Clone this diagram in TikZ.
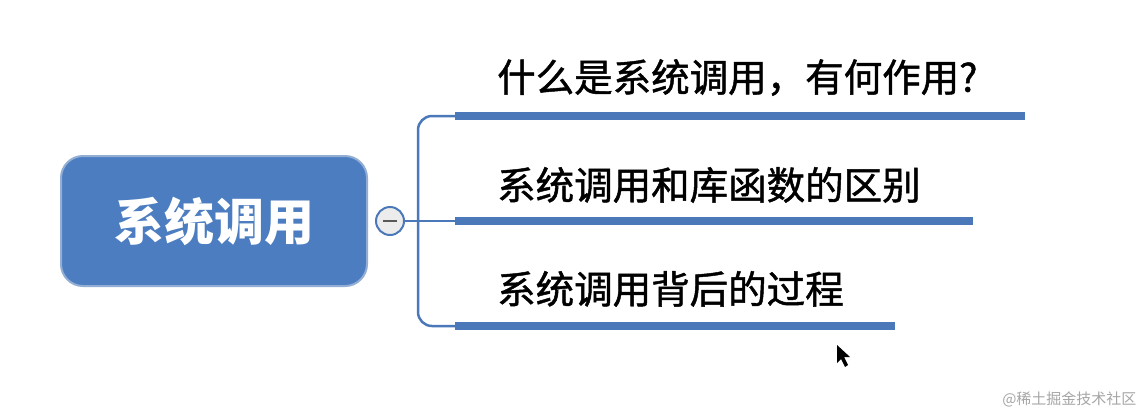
\documentclass[tikz,border=0pt]{standalone}
\usepackage{fontspec}
\newfontfamily\cjk{Noto Sans CJK SC}
\newfontfamily\cjkm[FakeBold=1.2]{Noto Sans CJK SC}
\begin{document}
\begin{tikzpicture}[x=1pt,y=-1pt]
\definecolor{mblue}{HTML}{4A78B8}
\definecolor{rootfill}{HTML}{4C7DC0}
\tikzset{bar/.style={mblue,line width=8pt},
 conn/.style={mblue,line width=2.5pt,rounded corners=14pt},
 lbl/.style={anchor=south west,inner sep=0pt,font=\cjkm\fontsize{38.5}{38.5}\selectfont}}
\useasboundingbox[fill=white] (0,0) rectangle (1145,416);
\node[draw=mblue!60,line width=2pt,fill=rootfill,rounded corners=22pt,minimum width=306pt,minimum height=130pt,text=white,font=\cjk\bfseries\fontsize{50}{50}\selectfont] (root) at (214,221) {系统调用};
\node[circle,draw=mblue,line width=2pt,fill=gray!15,minimum size=28pt,inner sep=0pt] (col) at (390,221) {};
\draw[gray!70!black,line width=2.5pt] (col.center)++(-7,0) -- ++(14,0);
\coordinate (b1s) at (455,116); \coordinate (b1e) at (1025,116);
\coordinate (b2s) at (455,221); \coordinate (b2e) at (973,221);
\coordinate (b3s) at (455,326); \coordinate (b3e) at (895,326);
\draw[bar] (b1s) -- (b1e);
\draw[bar] (b2s) -- (b2e);
\draw[bar] (b3s) -- (b3e);
\draw[conn] (col.east) -- (b2s);
\draw[conn] (b1s) -- (418,116) -- (418,326) -- (b3s);
\node[lbl] (t1) at (497,96) {什么是系统调用，有何作用?};
\node[lbl] (t2) at (497,203) {系统调用和库函数的区别};
\node[lbl] (t3) at (497,307) {系统调用背后的过程};
\node[font=\cjk\fontsize{15}{15}\selectfont,text=gray!70,anchor=east] (wm) at (1140,399) {@稀土掘金技术社区};
\fill[black] (837,345) -- (837,363) -- (841,359) -- (845,367) -- (848,365) -- (844,357) -- (850,357) -- cycle;
\end{tikzpicture}
\end{document}
